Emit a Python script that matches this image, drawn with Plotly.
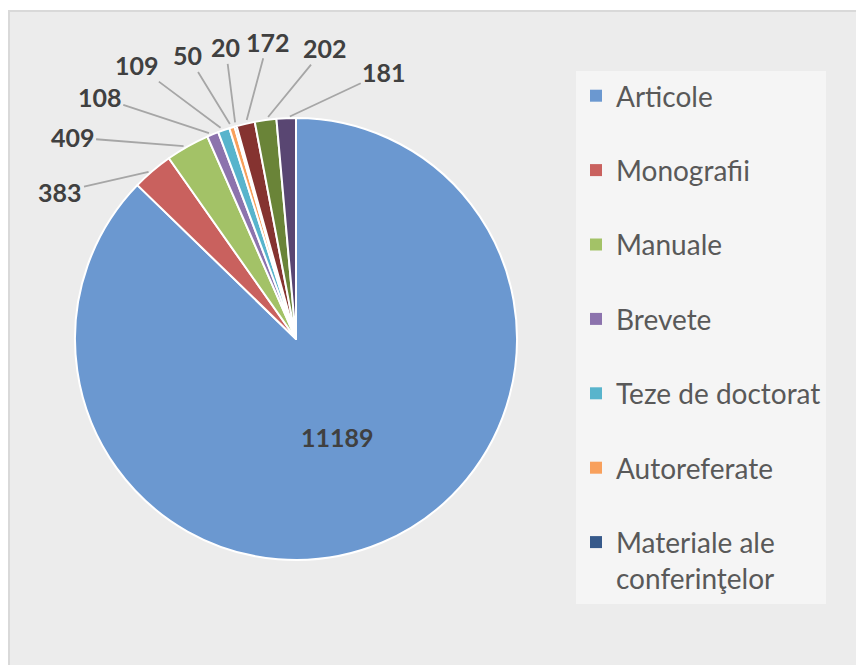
import numpy as np
import plotly.graph_objects as go

categories = ["Articole", "Monografii", "Manuale", "Brevete", "Teze de doctorat",
              "Autoreferate", "Materiale ale conferinţelor",
              "Categoria 8", "Categoria 9", "Categoria 10"]
values = [11189, 383, 409, 108, 109, 50, 20, 172, 202, 181]
colors = ["#6b98d0", "#c9615e", "#a3c267", "#8c73ad", "#58b4cc", "#f8a05c",
          "#36598a", "#853330", "#6a8438", "#594672"]
legend_names = ["Articole", "Monografii", "Manuale", "Brevete", "Teze de doctorat",
                "Autoreferate", "Materiale ale<br>conferinţelor"]
# label text offsets (pixels) from the slice rim; first label sits inside the slice
label_offsets = [None, (-92, 21), (-115, -9), (-113, -37), (-87, -65), (-44, -72),
                 (-10, -79), (22, -82), (59, -72), (98, -46)]

W, H = 864, 665
OFF = 8                              # page body margin
FONT = "Lato"
CX, CY, R = 296 - OFF, 339 - OFF, 221  # pie centre / radius in pixels

dom_x = [(CX - R) / W, (CX + R) / W]
dom_y = [1 - (CY + R) / H, 1 - (CY - R) / H]

fig = go.Figure()
fig.add_trace(go.Pie(
    labels=categories, values=values, sort=False, direction="clockwise", rotation=0,
    marker=dict(colors=colors, line=dict(color="white", width=2)),
    textinfo="none", showlegend=False,
    domain=dict(x=dom_x, y=dom_y),
    hoverinfo="label+value",
))

for name, col in zip(legend_names, colors[:7]):
    fig.add_trace(go.Scatter(
        x=[None], y=[None], mode="markers", name=name, legendgroup=name,
        marker=dict(symbol="square", size=12, color=col),
    ))

# label positions from slice mid-angles
vals = np.array(values, dtype=float)
cum = np.cumsum(vals) - vals / 2
mid = cum / vals.sum() * 2 * np.pi     # clockwise from 12 o'clock
annotations = []
lab_font = dict(family=FONT, size=25, color="#404040", weight="bold")
for i, (v, a) in enumerate(zip(values, mid)):
    if label_offsets[i] is None:
        px = CX + 0.48 * R * np.sin(a)
        py = CY - 0.48 * R * np.cos(a)
        annotations.append(dict(x=px / W, y=1 - py / H, xref="paper", yref="paper",
                                text=str(v), showarrow=False, font=lab_font))
    else:
        px = CX + R * np.sin(a)
        py = CY - R * np.cos(a)
        ax, ay = label_offsets[i]
        annotations.append(dict(x=px / W, y=1 - py / H, xref="paper", yref="paper",
                                text=str(v), showarrow=True, ax=ax, ay=ay,
                                arrowhead=0, arrowwidth=1.8, arrowcolor="#a6a6a6",
                                standoff=4, font=lab_font))

fig.update_layout(
    width=W, height=H,
    margin=dict(l=0, r=0, t=0, b=0, autoexpand=False),
    paper_bgcolor="white",
    plot_bgcolor="rgba(0,0,0,0)",
    xaxis=dict(visible=False), yaxis=dict(visible=False),
    legend=dict(x=(576 - OFF) / W, y=1 - (71 - OFF) / H, xanchor="left", yanchor="top",
                valign="top", bgcolor="#f5f5f5",
                font=dict(family=FONT, size=28, color="#595959"),
                tracegroupgap=35, traceorder="grouped", itemsizing="constant"),
    annotations=annotations,
    shapes=[dict(type="rect", xref="paper", yref="paper", x0=(9 - OFF) / W, y0=-0.02,
                 x1=1.02, y1=1 - (11 - OFF) / H, line=dict(color="#d9d9d9", width=2),
                 fillcolor="#ececec", layer="below")],
)

fig.write_html("out.html")
